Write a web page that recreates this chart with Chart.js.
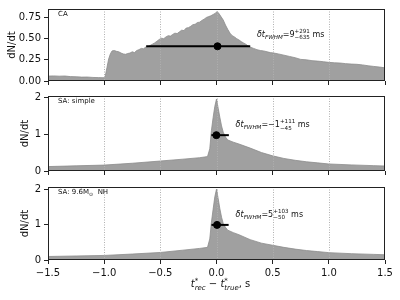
<!DOCTYPE html>
<html>
<head>
<meta charset="utf-8">
<script src="https://cdn.jsdelivr.net/npm/chart.js@4"></script>
<style>
  html, body { margin: 0; padding: 0; background: #fff; }
  #wrap { position: relative; width: 400px; height: 300px; }
  .panel { position: absolute; left: 0; width: 400px; }
</style>
</head>
<body>
<div id="wrap">
  <div class="panel" style="top:0"><canvas id="p1" width="400" height="90"></canvas></div>
  <div class="panel" style="top:90px"><canvas id="p2" width="400" height="90"></canvas></div>
  <div class="panel" style="top:180px"><canvas id="p3" width="400" height="120"></canvas></div>
</div>
<script>
// Histogram of arrival time offsets, three models

// CA
const tCA = [-1.5, -1.45, -1.4, -1.35, -1.3, -1.25, -1.2, -1.15, -1.1, -1.05, -1.0,
  -0.99, -0.975, -0.96, -0.945, -0.93, -0.91, -0.89, -0.87, -0.85, -0.83, -0.81, -0.79, -0.77, -0.75,
  -0.73, -0.71, -0.69, -0.67, -0.65, -0.63, -0.61, -0.59, -0.57, -0.55, -0.53, -0.51, -0.49, -0.47,
  -0.45, -0.43, -0.41, -0.39, -0.37, -0.35, -0.33, -0.31, -0.29, -0.27, -0.25, -0.23, -0.21, -0.19,
  -0.17, -0.15, -0.13, -0.11, -0.09, -0.07, -0.05, -0.03, -0.01, 0.005, 0.02, 0.04, 0.06, 0.08, 0.10,
  0.12, 0.14, 0.16, 0.18, 0.20, 0.22, 0.24, 0.26, 0.28, 0.30, 0.33, 0.36, 0.39, 0.42, 0.45, 0.48, 0.51,
  0.55, 0.60, 0.65, 0.70, 0.75, 0.80, 0.85, 0.90, 0.95, 1.0, 1.05, 1.1, 1.15, 1.2, 1.25, 1.3, 1.35, 1.4,
  1.45, 1.5]
const dndtCA = [0.058, 0.060, 0.057, 0.059, 0.052, 0.050, 0.046, 0.047, 0.042, 0.040, 0.038,
  0.06, 0.16, 0.26, 0.32, 0.355, 0.36, 0.35, 0.345, 0.33, 0.32, 0.315, 0.325, 0.33, 0.345,
  0.335, 0.36, 0.37, 0.385, 0.38, 0.40, 0.405, 0.42, 0.435, 0.45, 0.47, 0.49, 0.505, 0.50,
  0.52, 0.535, 0.53, 0.55, 0.565, 0.56, 0.58, 0.60, 0.595, 0.625, 0.63, 0.645, 0.665, 0.67,
  0.69, 0.695, 0.715, 0.73, 0.75, 0.76, 0.77, 0.785, 0.80, 0.82, 0.80, 0.76, 0.72, 0.66, 0.61,
  0.565, 0.535, 0.52, 0.50, 0.485, 0.465, 0.45, 0.435, 0.415, 0.40, 0.385, 0.37, 0.36, 0.355, 0.345, 0.335, 0.33,
  0.32, 0.305, 0.29, 0.275, 0.255, 0.25, 0.24, 0.235, 0.228, 0.22, 0.215, 0.212, 0.205, 0.20, 0.197, 0.19, 0.18, 0.172,
  0.165, 0.155]

// SA: simple
const tSimple = [-1.5, -1.25, -1.0, -0.75, -0.5, -0.3, -0.15, -0.08, -0.06, -0.045, -0.03, -0.015, 0.0,
  0.015, 0.03, 0.045, 0.06, 0.08, 0.1, 0.15, 0.2, 0.3, 0.4, 0.5, 0.6, 0.7, 0.8, 0.9, 1.0, 1.2, 1.4, 1.5]
const dndtSimple = [0.12, 0.14, 0.16, 0.21, 0.27, 0.32, 0.36, 0.39, 0.6, 1.1, 1.45, 1.75, 1.95,
  1.7, 1.45, 1.22, 1.05, 0.92, 0.84, 0.78, 0.73, 0.62, 0.50, 0.41, 0.34, 0.29, 0.25, 0.22, 0.19, 0.165, 0.145, 0.135]

// SA: 9.6 Msun NH
const tNH = [-1.5, -1.25, -1.0, -0.75, -0.5, -0.3, -0.15, -0.08, -0.06, -0.045, -0.03, -0.015, 0.0,
  0.015, 0.03, 0.045, 0.06, 0.08, 0.1, 0.15, 0.2, 0.3, 0.4, 0.5, 0.6, 0.7, 0.8, 0.9, 1.0, 1.2, 1.4, 1.5]
const dndtNH = [0.10, 0.115, 0.13, 0.17, 0.215, 0.28, 0.33, 0.36, 0.6, 1.08, 1.45, 1.8, 2.02,
  1.75, 1.46, 1.22, 1.04, 0.93, 0.85, 0.78, 0.72, 0.58, 0.48, 0.42, 0.36, 0.31, 0.27, 0.24, 0.21, 0.18, 0.16, 0.15]

const xTicks = [-1.5, -1.0, -0.5, 0.0, 0.5, 1.0, 1.5]

// FWHM error bars (ms)
const fwhmCenter = [9, -1, 5]
const fwhmPlus = [291, 111, 103]
const fwhmMinus = [635, 45, 50]
const fwhmLevel = [0.41, 0.97, 1.0]

const FONT = "'DejaVu Sans', sans-serif"
const fmtMinus = (s) => String(s).replace("-", "\u2212")

// draw a run of text pieces; a piece with `stack` puts sup and sub at the same x
function measureRich(ctx, parts) {
  let w = 0
  parts.forEach((p) => {
    ctx.font = (p.italic ? "italic " : "") + p.size + "px " + FONT
    if (p.stack) w += Math.max(...p.stack.map((s) => ctx.measureText(s).width))
    else w += ctx.measureText(p.t).width
  })
  return w
}

function drawRich(ctx, x, y, parts) {
  ctx.save()
  ctx.fillStyle = "#111"
  ctx.textBaseline = "alphabetic"
  ctx.textAlign = "left"
  parts.forEach((p) => {
    ctx.font = (p.italic ? "italic " : "") + p.size + "px " + FONT
    if (p.stack) {
      ctx.fillText(p.stack[0], x, y - 4)
      ctx.fillText(p.stack[1], x, y + 2.5)
      x += Math.max(...p.stack.map((s) => ctx.measureText(s).width))
    } else {
      ctx.fillText(p.t, x, y + (p.dy || 0))
      x += ctx.measureText(p.t).width
    }
  })
  ctx.restore()
}

const panelLabels = [
  [{ t: "CA", size: 7 }],
  [{ t: "SA: simple", size: 7 }],
  [{ t: "SA: 9.6M", size: 7 }, { t: "\u2299", size: 5, dy: 1.5 }, { t: "  NH", size: 7 }],
]

// where the FWHM text starts, in data units
const annotX = [0.36, 0.17, 0.17]
const annotY = [0.52, 1.19, 1.23]

// Dotted vertical grid, drawn over the histogram fill
const dottedGrid = {
  id: "dottedGrid",
  afterDatasetDraw(chart, args) {
    if (args.index !== 0) return
    const { ctx, chartArea: a, scales: { x } } = chart
    ctx.save()
    ctx.strokeStyle = "#b0b0b0"
    ctx.lineWidth = 1
    ctx.setLineDash([1, 1.5])
    xTicks.slice(1, -1).forEach((v) => {
      const px = Math.round(x.getPixelForValue(v)) + 0.5
      ctx.beginPath()
      ctx.moveTo(px, a.top)
      ctx.lineTo(px, a.bottom)
      ctx.stroke()
    })
    ctx.restore()
  },
}

// Frame and text annotations
const panelDecor = {
  id: "panelDecor",
  afterDraw(chart, args, opts) {
    const { ctx, chartArea: a, scales: { x, y } } = chart
    const i = opts.idx

    ctx.save()
    ctx.strokeStyle = "#222"
    ctx.lineWidth = 1
    ctx.strokeRect(Math.round(a.left) + 0.5, Math.round(a.top) + 0.5, Math.round(a.right - a.left) - 1, Math.round(a.bottom - a.top) - 1)
    ctx.restore()

    drawRich(ctx, a.left + 10, a.top + 7, panelLabels[i])

    const val = fmtMinus(fwhmCenter[i])
    drawRich(ctx, x.getPixelForValue(annotX[i]), y.getPixelForValue(annotY[i]), [
      { t: "\u03b4t", size: 8, italic: true },
      { t: "FWHM", size: 5.6, italic: true, dy: 2 },
      { t: "=" + val, size: 8 },
      { stack: ["+" + fwhmPlus[i], "\u2212" + fwhmMinus[i]], size: 5.6 },
      { t: " ms", size: 8 },
    ])

    if (opts.xTitle) {
      const parts = [
        { t: "t", size: 10, italic: true },
        { stack: ["*", "rec"], size: 7, italic: true },
        { t: " \u2212 ", size: 10 },
        { t: "t", size: 10, italic: true },
        { stack: ["*", "true"], size: 7, italic: true },
        { t: ", s", size: 10 },
      ]
      const w = measureRich(ctx, parts)
      drawRich(ctx, (a.left + a.right) / 2 + 4 - w / 2, a.bottom + 27, parts)
    }
  },
}

function makePanel(id, idx, t, vals, cfg) {
  const c = fwhmCenter[idx] / 1000
  new Chart(document.getElementById(id), {
    type: "line",
    data: {
      datasets: [
        {
          data: t.map((v, k) => ({ x: v, y: vals[k] })),
          order: 3,
          fill: "origin",
          backgroundColor: "#a0a0a0",
          borderColor: "#8c8c8c",
          borderWidth: 0.8,
          pointRadius: 0,
          tension: 0,
        },
        {
          data: [
            { x: c - fwhmMinus[idx] / 1000, y: fwhmLevel[idx] },
            { x: c + fwhmPlus[idx] / 1000, y: fwhmLevel[idx] },
          ],
          order: 2,
          borderColor: "#000",
          borderWidth: 2,
          pointRadius: 0,
          fill: false,
        },
        {
          data: [{ x: c, y: fwhmLevel[idx] }],
          order: 1,
          showLine: false,
          pointRadius: 3.5,
          pointBackgroundColor: "#000",
          pointBorderColor: "#000",
        },
      ],
    },
    options: {
      responsive: false,
      animation: false,
      layout: { padding: { top: cfg.top, right: 15, left: 0, bottom: 0 } },
      plugins: {
        legend: { display: false },
        tooltip: { enabled: false },
        panelDecor: { idx: idx, xTitle: cfg.xTitle },
      },
      scales: {
        x: {
          type: "linear",
          min: -1.5,
          max: 1.5,
          afterBuildTicks: (s) => { s.ticks = xTicks.map((v) => ({ value: v })) },
          afterFit: (s) => { s.height = cfg.xh },
          grid: { drawOnChartArea: false, drawTicks: true, tickLength: 4, color: "#222" },
          border: { display: false },
          ticks: {
            display: !!cfg.xTitle,
            padding: 3,
            color: "#111",
            font: { family: FONT, size: 10 },
            maxRotation: 0,
            callback: (v) => fmtMinus(v.toFixed(1)),
          },
        },
        y: {
          min: 0,
          max: cfg.ymax,
          afterFit: (s) => {
            s.width = 48
            s.paddingTop = 0
            s.paddingBottom = 0
          },
          grid: { drawOnChartArea: false, drawTicks: true, tickLength: 4, color: "#222" },
          border: { display: false },
          title: { display: true, text: "dN/dt", color: "#111", font: { family: FONT, size: 10 }, padding: { top: cfg.titlePad, bottom: 0 } },
          ticks: {
            stepSize: cfg.step,
            includeBounds: false,
            padding: 3,
            color: "#111",
            font: { family: FONT, size: 10 },
            callback: (v) => v.toFixed(cfg.dec),
          },
        },
      },
    },
    plugins: [dottedGrid, panelDecor],
  })
}

makePanel("p1", 0, tCA, dndtCA, { top: 9, xh: 9, ymax: 0.85, step: 0.25, dec: 2, titlePad: 6 })
makePanel("p2", 1, tSimple, dndtSimple, { top: 6, xh: 9, ymax: 2.03, step: 1, dec: 0, titlePad: 19 })
makePanel("p3", 2, tNH, dndtNH, { top: 7, xh: 40, ymax: 2.08, step: 1, dec: 0, titlePad: 19, xTitle: true })
</script>
</body>
</html>
